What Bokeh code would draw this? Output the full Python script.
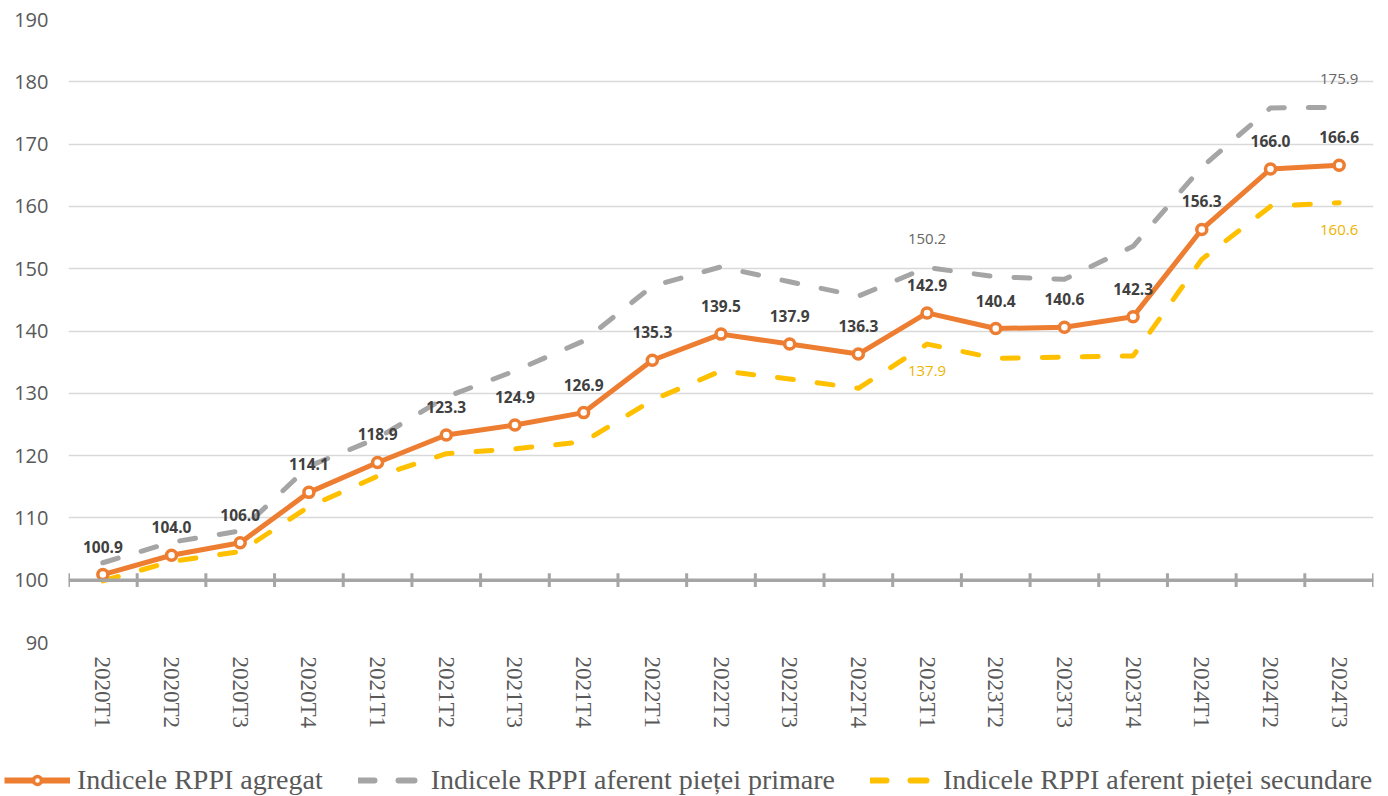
from bokeh.plotting import figure
from bokeh.layouts import column, row
from bokeh.models import (ColumnDataSource, FactorRange, Range1d, FixedTicker, Legend, LegendItem, Span)
from bokeh.transform import dodge
from bokeh.core.properties import value
from bokeh.embed import file_html
from bokeh.resources import INLINE

categories = ["2020T1", "2020T2", "2020T3", "2020T4", "2021T1", "2021T2", "2021T3", "2021T4",
              "2022T1", "2022T2", "2022T3", "2022T4", "2023T1", "2023T2", "2023T3", "2023T4",
              "2024T1", "2024T2", "2024T3"]
agregat = [100.9, 104.0, 106.0, 114.1, 118.9, 123.3, 124.9, 126.9, 135.3, 139.5, 137.9, 136.3,
           142.9, 140.4, 140.6, 142.3, 156.3, 166.0, 166.6]
primara = [102.8, 106.1, 107.9, 118.3, 122.8, 129.4, 133.6, 138.4, 147.2, 150.3, 147.9, 145.6,
           150.2, 148.7, 148.3, 153.6, 166.3, 175.8, 175.9]
secundara = [99.9, 103.0, 104.6, 111.8, 116.7, 120.3, 121.1, 122.2, 128.9, 133.6, 132.3, 130.8,
             137.9, 135.6, 135.8, 136.0, 151.5, 160.0, 160.6]
labelled_extra = ["2023T1", "2024T3"]
y_ticks = [90, 100, 110, 120, 130, 140, 150, 160, 170, 180, 190]
legend_labels = ["Indicele RPPI agregat", "Indicele RPPI aferent pieței primare",
                 "Indicele RPPI aferent pieței secundare"]

ORANGE = "#ED7D31"
GRAY = "#A5A5A5"
YELLOW = "#FFC000"
TEXT = "#595959"
SERIF = "Liberation Serif"

src = ColumnDataSource(dict(cat=categories, agr=agregat, pri=primara, sec=secundara,
                            agr_txt=[f"{v:.1f}" for v in agregat]))
idx = [categories.index(c) for c in labelled_extra]
src_extra = ColumnDataSource(dict(cat=labelled_extra,
                                  pri=[primara[i] for i in idx],
                                  sec=[secundara[i] for i in idx],
                                  pri_txt=[f"{primara[i]:.1f}" for i in idx],
                                  sec_txt=[f"{secundara[i]:.1f}" for i in idx]))

p = figure(width=1379, height=750, x_range=FactorRange(*categories, range_padding=0),
           y_range=Range1d(y_ticks[0], y_ticks[-1]), output_backend="svg", toolbar_location=None,
           min_border_left=68, min_border_right=6, min_border_top=19, min_border_bottom=108)
p.outline_line_color = None
p.xgrid.grid_line_color = None
p.ygrid.ticker = FixedTicker(ticks=y_ticks)
p.ygrid.grid_line_color = "#D9D9D9"
p.ygrid.grid_line_width = 1.5

p.yaxis.ticker = FixedTicker(ticks=y_ticks)
p.yaxis.axis_line_color = None
p.yaxis.major_tick_line_color = None
p.yaxis.minor_tick_line_color = None
p.yaxis.major_tick_out = 0
p.yaxis.major_label_standoff = 20
p.yaxis.major_label_text_font = "Open Sans"
p.yaxis.major_label_text_font_size = "20px"
p.yaxis.major_label_text_color = TEXT

p.xaxis.axis_line_color = None
p.xaxis.major_tick_line_color = None
p.xaxis.major_tick_out = 0
p.xaxis.major_label_orientation = "vertical"
p.xaxis.major_label_standoff = 14
p.xaxis.major_label_text_font = SERIF
p.xaxis.major_label_text_font_size = "23px"
p.xaxis.major_label_text_color = TEXT

# base axis line at 100 with ticks at category boundaries
p.add_layout(Span(location=y_ticks[1], dimension="width", line_color=GRAY, line_width=3.5))
p.segment(x0=dodge("cat", -0.5, range=p.x_range), x1=dodge("cat", -0.5, range=p.x_range),
          y0=y_ticks[1] - 1.1, y1=y_ticks[1] + 1.1, source=src, line_color=GRAY, line_width=3)
p.segment(x0=dodge("cat", 0.5, range=p.x_range), x1=dodge("cat", 0.5, range=p.x_range),
          y0=y_ticks[1] - 1.1, y1=y_ticks[1] + 1.1, source=ColumnDataSource(dict(cat=categories[-1:])),
          line_color=GRAY, line_width=3)

p.line("cat", "pri", source=src, line_color=GRAY, line_width=5, line_dash="16 24",
       line_join="round", line_cap="round")
p.line("cat", "sec", source=src, line_color=YELLOW, line_width=5, line_dash="16 24",
       line_join="round", line_cap="round")
p.line("cat", "agr", source=src, line_color=ORANGE, line_width=5, line_join="round")
p.scatter("cat", "agr", source=src, size=10, fill_color="white", line_color=ORANGE,
          line_width=3.5)

p.text("cat", "agr", text="agr_txt", source=src, text_align="center", text_baseline="middle",
       y_offset=-28, text_font=value("Open Sans"), text_font_style="bold",
       text_font_size="15.5px", text_color="#404040")
p.text("cat", "pri", text="pri_txt", source=src_extra, text_align="center", text_baseline="middle",
       y_offset=-28, text_font=value("Open Sans"), text_font_size="15px", text_color="#666666")
p.text("cat", "sec", text="sec_txt", source=src_extra, text_align="center", text_baseline="middle",
       y_offset=27, text_font=value("Open Sans"), text_font_size="15px", text_color="#EDB400")

# legend strip below the chart (renderers draw the series from the same source, but
# lie outside this strip's visible range, so only their legend glyphs show)
lg = figure(width=1379, height=46, x_range=FactorRange(*categories, range_padding=0),
            y_range=Range1d(0, 1), output_backend="svg", toolbar_location=None, min_border=0,
            x_axis_location=None, y_axis_location=None)
lg.grid.visible = False
lg.outline_line_color = None
l_agr = lg.line("cat", "agr", source=src, line_color=ORANGE, line_width=6)
l_pts = lg.scatter("cat", "agr", source=src, size=11, fill_color="white",
                   line_color=ORANGE, line_width=3.5)
l_pri = lg.line("cat", "pri", source=src, line_color=GRAY, line_width=6,
                line_dash="16 24", line_cap="round")
l_sec = lg.line("cat", "sec", source=src, line_color=YELLOW, line_width=6,
                line_dash="16 24", line_cap="round")
legend = Legend(items=[LegendItem(label=legend_labels[0], renderers=[l_agr, l_pts]),
                       LegendItem(label=legend_labels[1], renderers=[l_pri]),
                       LegendItem(label=legend_labels[2], renderers=[l_sec])],
                location=(4, 0), orientation="horizontal", padding=0, margin=0,
                spacing=35, glyph_width=66, glyph_height=20, label_standoff=7,
                label_text_font=SERIF, label_text_font_size="28px",
                label_text_color=TEXT, border_line_alpha=0, background_fill_alpha=0)
lg.add_layout(legend, "center")

open("out.html", "w").write(file_html(column(p, row(lg), spacing=0), INLINE))
